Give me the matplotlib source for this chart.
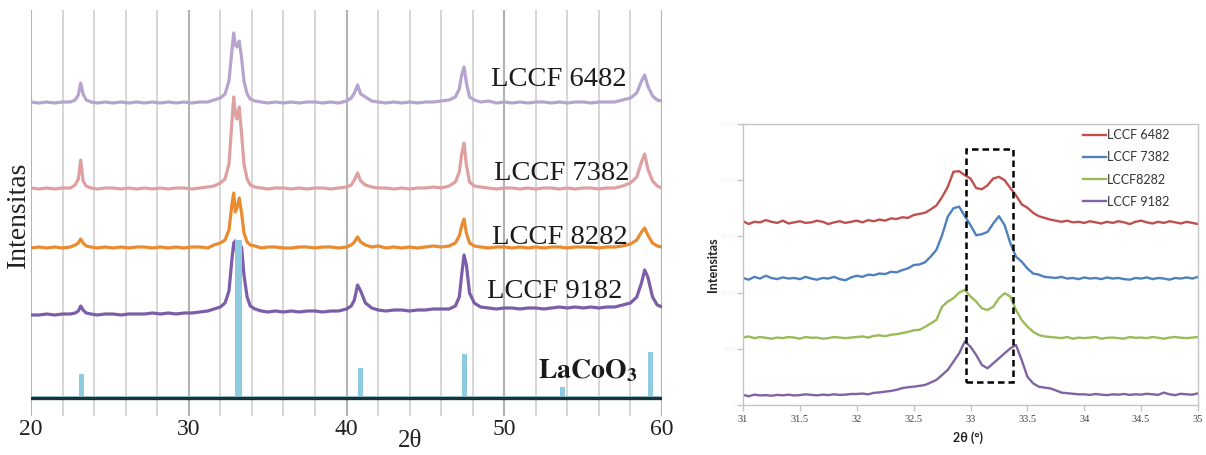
import matplotlib
matplotlib.use('Agg')
import matplotlib.pyplot as plt
import numpy as np
from matplotlib.patches import Rectangle

plt.rcParams['mathtext.fontset'] = 'stix'

# ---------------- Left panel data (XRD 20-60 deg, arbitrary units) ----------------
left_x = [20.0, 20.5, 21.0, 21.5, 22.0, 22.5,
          22.8, 23.0, 23.15, 23.3, 23.5, 23.8,
          24.2, 24.7, 25.2, 25.7, 26.2, 26.7,
          27.2, 27.7, 28.2, 28.7, 29.2, 29.7,
          30.2, 30.7, 31.2, 31.6, 32.0, 32.3,
          32.55, 32.75, 32.85, 32.95, 33.05, 33.2,
          33.35, 33.5, 33.7, 33.9, 34.2, 34.6,
          35.0, 35.5, 36.0, 36.5, 37.0, 37.5,
          38.0, 38.5, 39.0, 39.5, 40.0, 40.3,
          40.5, 40.7, 40.9, 41.2, 41.6, 42.0,
          42.5, 43.0, 43.5, 44.0, 44.5, 45.0,
          45.5, 46.0, 46.5, 46.9, 47.15, 47.3,
          47.45, 47.6, 47.8, 48.1, 48.5, 49.0,
          49.5, 50.0, 50.5, 51.0, 51.5, 52.0,
          52.5, 53.0, 53.5, 54.0, 54.5, 55.0,
          55.5, 56.0, 56.5, 57.0, 57.5, 58.0,
          58.4, 58.7, 58.9, 59.1, 59.4, 59.7,
          60.0]

lccf6482_left = [1, 0, 1, 0, 1, 1,
                 3, 8, 20, 9, 3, 1,
                 0, 1, 0, 1, 0, 1,
                 0, 1, 0, 1, 0, 1,
                 0, 1, 1, 3, 5, 9,
                 22, 55, 70, 58, 56, 62,
                 45, 22, 9, 4, 2, 1,
                 0, 1, 0, 1, 0, 1,
                 1, 0, 1, 0, 2, 5,
                 10, 18, 9, 6, 2, 1,
                 0, 1, 0, 1, 0, 1,
                 1, 2, 3, 6, 14, 28,
                 36, 20, 6, 3, 1, 2,
                 0, 1, 0, 1, 0, 1,
                 1, 0, 1, 0, 1, 1,
                 0, 1, 1, 1, 3, 5,
                 10, 22, 28, 17, 7, 3,
                 2]

lccf7382_left = [1, 0, 1, 0, 1, 1,
                 4, 10, 29, 8, 3, 1,
                 0, 1, 1, 0, 1, 0,
                 1, 0, 1, 0, 1, 1,
                 0, 1, 2, 3, 6, 10,
                 25, 70, 92, 75, 70, 82,
                 55, 25, 10, 4, 2, 1,
                 0, 1, 1, 0, 1, 0,
                 1, 1, 0, 1, 2, 4,
                 9, 16, 8, 4, 2, 1,
                 1, 0, 1, 0, 1, 1,
                 2, 1, 3, 7, 17, 35,
                 46, 24, 7, 3, 2, 1,
                 0, 1, 1, 0, 1, 0,
                 1, 1, 0, 1, 0, 1,
                 1, 0, 1, 1, 3, 6,
                 12, 27, 35, 20, 8, 3,
                 1]

lccf8282_left = [0, 1, 0, 1, 0, 1,
                 3, 5, 9, 5, 2, 1,
                 0, 1, 0, 1, 0, 1,
                 1, 0, 1, 0, 1, 0,
                 1, 1, 0, 3, 5, 8,
                 18, 45, 55, 36, 40, 50,
                 35, 15, 6, 3, 2, 0,
                 1, 1, 0, 0, 1, 1,
                 0, 1, 1, 0, 1, 3,
                 6, 11, 6, 3, 1, 2,
                 0, 1, 0, 1, 0, 1,
                 2, 1, 2, 5, 12, 22,
                 29, 15, 5, 2, 1, 0,
                 1, 1, 0, 1, 0, 1,
                 0, 1, 1, 0, 1, 1,
                 1, 0, 1, 1, 2, 4,
                 8, 16, 20, 13, 5, 2,
                 1]

lccf9182_left = [0, 0, 1, 0, 1, 1,
                 2, 4, 9, 5, 2, 1,
                 0, 1, 1, 0, 1, 1,
                 1, 2, 1, 2, 1, 2,
                 2, 3, 4, 6, 8, 12,
                 24, 58, 72, 74, 60, 58,
                 68, 40, 18, 9, 6, 4,
                 3, 4, 3, 4, 3, 4,
                 4, 3, 4, 4, 6, 9,
                 15, 30, 24, 12, 7, 5,
                 4, 5, 5, 4, 5, 5,
                 6, 6, 6, 9, 18, 40,
                 60, 50, 22, 12, 8, 7,
                 6, 7, 7, 6, 7, 7,
                 6, 7, 8, 7, 8, 7,
                 8, 7, 8, 8, 10, 12,
                 18, 32, 45, 38, 18, 10,
                 8]

left_names = ['LCCF 6482', 'LCCF 7382', 'LCCF 8282', 'LCCF 9182']
left_series = [lccf6482_left, lccf7382_left, lccf8282_left, lccf9182_left]
left_offsets = [294, 208, 149, 82]

# LaCoO3 reference pattern
ref_pos = [23.2, 33.15, 40.9, 47.5, 53.7, 59.3]
ref_int = [23, 157, 29, 43, 10, 45]

# ---------------- Right panel data (31-35 deg) ----------------
right_x = np.round(np.arange(31.0, 35.0001, 0.05), 2)

lccf6482 = [1635, 1610, 1630, 1625, 1645, 1630, 1620, 1640, 1615, 1625,
            1635, 1620, 1625, 1640, 1630, 1610, 1625, 1635, 1620, 1630,
            1640, 1625, 1645, 1635, 1650, 1640, 1660, 1655, 1670, 1665,
            1690, 1700, 1710, 1740, 1775, 1850, 1940, 2075, 2080, 2045,
            2015, 1930, 1920, 1955, 2015, 2030, 2000, 1930, 1865, 1785,
            1755, 1710, 1680, 1665, 1650, 1640, 1630, 1640, 1625, 1630,
            1620, 1635, 1625, 1615, 1630, 1620, 1635, 1625, 1610, 1630,
            1640, 1625, 1615, 1630, 1620, 1635, 1625, 1615, 1630, 1620, 1610]

lccf7382 = [1130, 1115, 1140, 1125, 1150, 1130, 1120, 1135, 1125, 1130,
            1120, 1140, 1125, 1115, 1130, 1125, 1140, 1120, 1110, 1135,
            1150, 1140, 1160, 1155, 1170, 1165, 1185, 1180, 1200, 1215,
            1245, 1250, 1270, 1320, 1380, 1510, 1675, 1750, 1765, 1680,
            1600, 1510, 1520, 1540, 1615, 1680, 1600, 1440, 1320, 1275,
            1215, 1170, 1160, 1140, 1135, 1130, 1140, 1125, 1130, 1120,
            1135, 1125, 1130, 1120, 1135, 1125, 1130, 1120, 1115, 1130,
            1125, 1135, 1120, 1130, 1125, 1115, 1130, 1125, 1135, 1125, 1140]

lccf8282 = [600, 610, 595, 605, 598, 590, 600, 595, 605, 600,
            590, 605, 598, 600, 590, 595, 605, 600, 595, 600,
            605, 610, 600, 615, 620, 612, 625, 630, 640, 650,
            665, 668, 695, 725, 757, 875, 920, 950, 1000, 1024,
            965, 920, 860, 845, 875, 950, 994, 965, 845, 757,
            697, 652, 623, 610, 605, 600, 595, 605, 590, 600,
            595, 600, 605, 590, 598, 600, 595, 590, 605, 598,
            600, 595, 605, 598, 590, 600, 605, 598, 595, 600, 605]

lccf9182 = [90, 78, 92, 85, 88, 82, 90, 86, 92, 85,
            88, 95, 90, 86, 92, 88, 95, 90, 92, 98,
            98, 102, 95, 108, 112, 119, 125, 135, 150, 158,
            163, 170, 178, 200, 223, 267, 312, 386, 460, 564,
            519, 445, 356, 327, 371, 415, 460, 504, 534, 400,
            252, 193, 163, 155, 148, 130, 110, 105, 100, 95,
            95, 90, 98, 92, 88, 95, 92, 98, 90, 95,
            92, 100, 95, 90, 110, 95, 88, 100, 95, 92, 104]

right_names = ['LCCF 6482', 'LCCF 7382', 'LCCF8282', 'LCCF 9182']
right_series = [lccf6482, lccf7382, lccf8282, lccf9182]

# highlighted window
box_x = [32.96, 33.37]
box_y = [205, 2278]

# ---------------- Figure ----------------
W, H = 1206, 455
fig = plt.figure(figsize=(W / 100, H / 100), dpi=100)
fig.patch.set_facecolor('white')


def fx(px):
    return px / W


def fy(py):
    return 1 - py / H


serif = ['Liberation Serif', 'DejaVu Serif']
sans = ['Lato', 'DejaVu Sans']

# ----- left axes -----
axL = fig.add_axes([fx(31), fy(416), fx(662) - fx(31), fy(10) - fy(416)])
axL.set_xlim(20, 60)
axL.set_ylim(-19, 387)
for s in axL.spines.values():
    s.set_visible(False)
axL.set_xticks([20, 30, 40, 50, 60])
axL.set_xticks(np.arange(20, 61, 2), minor=True)
axL.set_yticks([])
axL.grid(which='major', axis='x', color='#b3b3b3', lw=1.5, zorder=0)
axL.grid(which='minor', axis='x', color='#d3d3d3', lw=1.3, zorder=0)
axL.set_axisbelow(True)
axL.tick_params(which='both', length=0, pad=2, labelsize=17, labelcolor='#222222')
for lab in axL.get_xticklabels():
    lab.set_family(serif)

left_colors = ['#b6a4cf', '#dea0a0', '#e98b30', '#7b5da8']
for vals, off, col in zip(left_series, left_offsets, left_colors):
    axL.plot(left_x, np.array(vals) + off, color=col, lw=2.3, zorder=2,
             solid_joinstyle='round')

ref_w = [0.32, 0.45, 0.32, 0.32, 0.32, 0.32]
axL.bar(ref_pos, ref_int, width=ref_w, color='#8ecbe0', zorder=3, align='center')
axL.axhline(0.5, color='#a5d6e6', lw=2.0, zorder=4)
axL.axhline(-1, color='#173238', lw=2.4, zorder=5)

label_pos = [(627, 80), (630, 173), (628, 237), (622, 292)]
for name, (px, py) in zip(left_names, label_pos):
    fig.text(fx(px), fy(py), name, ha='right', va='center', fontsize=20.5,
             family=serif, color='#1a1a1a')
fig.text(fx(637), fy(370), r'$\mathbf{LaCoO_3}$', ha='right', va='center',
         fontsize=20, color='#1a1a1a')
fig.text(fx(18), fy(215), 'Intensitas', rotation=90, ha='center', va='center',
         fontsize=20, family=serif, color='#222222')
fig.text(fx(410), fy(441), '2θ', ha='center', va='center', fontsize=18,
         family=serif, color='#222222')

# ----- right axes -----
axR = fig.add_axes([fx(743), fy(405), fx(1198) - fx(743), fy(124) - fy(405)])
axR.set_xlim(31, 35)
axR.set_ylim(0, 2500)
for s in axR.spines.values():
    s.set_color('#c4c4c4')
    s.set_linewidth(1.0)
axR.set_xticks(np.arange(31, 35.01, 0.5))
axR.set_xticklabels(['31', '31.5', '32', '32.5', '33', '33.5', '34', '34.5', '35'])
axR.set_yticks(np.arange(0, 2501, 500))
axR.tick_params(axis='x', direction='out', length=4, width=1, color='#c4c4c4',
                labelsize=7.5, labelcolor='#404040', pad=3)
axR.tick_params(axis='y', direction='out', length=4, width=1, color='#c4c4c4',
                labelsize=4.5, labelcolor='#f0f0f0', pad=1.5)
for lab in axR.get_xticklabels():
    lab.set_family(serif)

right_colors = ['#c0504d', '#4f81bd', '#9bbb59', '#8064a2']
handles = []
for vals, col, name in zip(right_series, right_colors, right_names):
    h, = axR.plot(right_x, vals, color=col, lw=1.7, label=name)
    handles.append(h)

axR.add_patch(Rectangle((box_x[0], box_y[0]), box_x[1] - box_x[0], box_y[1] - box_y[0],
                        fill=False, edgecolor='black', lw=1.8,
                        linestyle=(0, (2.6, 1.6)), zorder=5))

leg = fig.legend(handles=handles, loc='upper left',
                 bbox_to_anchor=(fx(1083), fy(129)), frameon=False,
                 prop={'family': sans, 'size': 9}, handlelength=1.85,
                 handletextpad=0.1, labelspacing=0.82, borderpad=0,
                 borderaxespad=0)
for t in leg.get_texts():
    t.set_color('#333333')

fig.text(fx(968), fy(438), '2θ (°)', ha='center', va='center', fontsize=9,
         fontweight='bold', family=sans, color='#222222')
fig.text(fx(713), fy(265), 'Intensitas', rotation=90, ha='center', va='center',
         fontsize=9, fontweight='bold', family=sans, color='#222222')

fig.savefig('out.png', dpi=100, facecolor='white')
